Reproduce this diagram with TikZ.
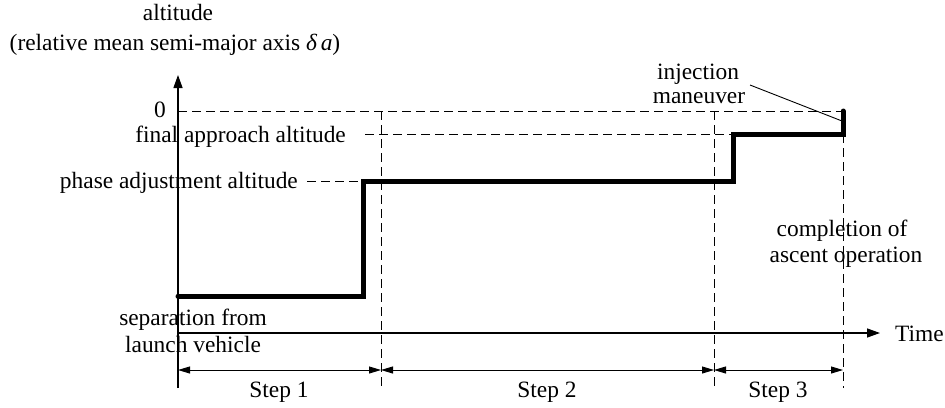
\documentclass[tikz,border=0pt]{standalone}
\usepackage{fontspec}
\setmainfont{Liberation Serif}
\usetikzlibrary{arrows.meta}
\begin{document}
\begin{tikzpicture}[x=1pt,y=-1pt,
  lbl/.style={inner sep=0pt,font=\fontsize{23.4}{27}\selectfont},
  axisline/.style={line width=1.3pt,-{Triangle[length=13pt,width=9pt]}},
  guide/.style={line width=0.9pt,dash pattern=on 9pt off 5pt},
  profile/.style={line width=5pt,line cap=round,line join=miter},
  dimline/.style={line width=0.9pt,{Triangle[length=12pt,width=7pt]}-{Triangle[length=12pt,width=7pt]}},
  thin/.style={line width=0.9pt}]
\useasboundingbox (0,0) rectangle (945,407);

% axes
\coordinate (origin) at (178,333);
\coordinate (ybottom) at (178,388);
\coordinate (ytop) at (178,75);
\coordinate (xtip) at (880,333);
\draw[line width=1.3pt] (ybottom) -- (origin);
\draw[axisline] (origin) -- (ytop);
\draw[axisline] (origin) -- (xtip);

% altitude levels on the axis
\coordinate (lvlzero) at (178,111);
\coordinate (lvlfinal) at (365,134);
\coordinate (lvlphase) at (307,181);

% step boundaries
\coordinate (b1top) at (381,111);  \coordinate (b1bot) at (381,388);
\coordinate (b2top) at (714,111);  \coordinate (b2bot) at (714,388);
\coordinate (b3top) at (843,134);  \coordinate (b3bot) at (843,388);

% profile corners
\coordinate (p0) at (178,296);
\coordinate (p1) at (363,296);
\coordinate (p2) at (363,181);
\coordinate (p3) at (733,181);
\coordinate (p4) at (733,134);
\coordinate (p5) at (843,134);
\coordinate (p6) at (843,111);

% guide lines
\draw[guide] (lvlzero) -- (p6);
\draw[guide] (lvlfinal) -- (p4);
\draw[guide] (lvlphase) -- (p2);
\draw[guide] (b1top) -- (b1bot);
\draw[guide] (b2top) -- (b2bot);
\draw[guide] (b3top) -- (b3bot);

% altitude profile
\draw[profile] (p0) -- (p1) -- (p2) -- (p3) -- (p4) -- (p5) -- (p6);

% step dimension lines
\coordinate (d0) at (178,370);
\coordinate (d1) at (381,370);
\coordinate (d2) at (714,370);
\coordinate (d3) at (843,370);
\draw[dimline] (d0) -- (d1);
\draw[dimline] (d1) -- (d2);
\draw[dimline] (d2) -- (d3);

% labels
\node[lbl,anchor=base] (ttl1) at (178,20) {altitude};
\node[lbl,anchor=base] (ttl2) at (175,50) {(relative mean semi-major axis \textit{δ\,a})};
\node[lbl,anchor=base east] (zero) at (166,117) {0};
\node[lbl,anchor=base east] (final) at (346,142) {final approach altitude};
\node[lbl,anchor=base east] (phase) at (298,188) {phase adjustment altitude};
\node[lbl,anchor=base] (inj1) at (698,79) {injection};
\node[lbl,anchor=base] (inj2) at (699,103) {maneuver};
\node[lbl,anchor=base] (comp1) at (842,236) {completion of};
\node[lbl,anchor=base] (comp2) at (846,262) {ascent operation};
\node[lbl,anchor=base] (sep1) at (193,325) {separation from};
\node[lbl,anchor=base] (sep2) at (193,352) {launch vehicle};
\node[lbl,anchor=base west] (time) at (895,341) {Time};
\node[lbl,anchor=base] (s1) at (279,397) {Step 1};
\node[lbl,anchor=base] (s2) at (547,397) {Step 2};
\node[lbl,anchor=base] (s3) at (778,397) {Step 3};

% leader from the injection label
\coordinate (leadstart) at (750,85);
\coordinate (leadend) at (842,121);
\draw[thin] (leadstart) -- (leadend);
\end{tikzpicture}
\end{document}
